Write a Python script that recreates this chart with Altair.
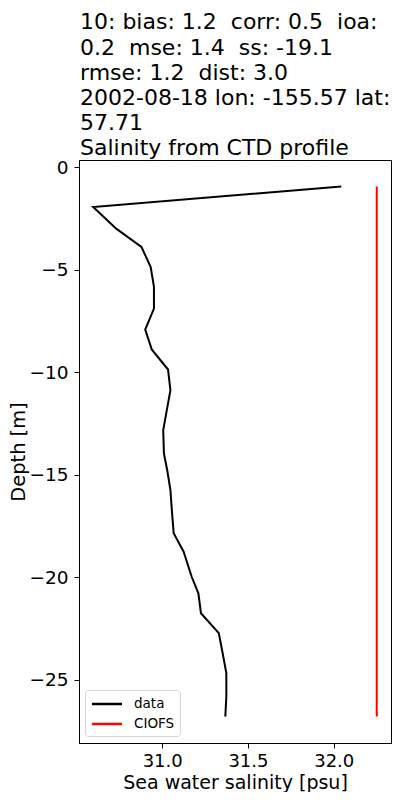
import altair as alt
import pandas as pd

# Observed CTD profile (data)
depth = [-0.93, -1.93, -2.99, -3.88, -4.86, -5.83, -6.89, -7.91, -8.88, -9.86,
         -10.87, -11.84, -12.82, -13.95, -14.8, -15.74, -16.8, -17.85, -18.75,
         -19.97, -20.78, -21.75, -22.72, -23.68, -24.67, -25.81, -26.79]
salinity = [32.044, 30.598, 30.732, 30.879, 30.933, 30.952, 30.952, 30.901, 30.939,
            31.034, 31.048, 31.027, 31.006, 31.010, 31.030, 31.048, 31.057, 31.067,
            31.125, 31.172, 31.211, 31.226, 31.330, 31.352, 31.374, 31.374, 31.368]

# Model profile (CIOFS)
model_depth = [-0.93, -26.79]
model_salinity = [32.251, 32.251]

series_names = ["data", "CIOFS"]
series_colors = ["#000000", "#ff0000"]
x_ticks = [31.0, 31.5, 32.0]
y_ticks = [0, -5, -10, -15, -20, -25]
NB = "\u00a0"
title_lines = [
    f"10: bias: 1.2 {NB}corr: 0.5 {NB}ioa:",
    f"0.2 {NB}mse: 1.4 {NB}ss: -19.1",
    f"rmse: 1.2 {NB}dist: 3.0",
    "2002-08-18 lon: -155.57 lat:",
    "57.71",
    "Salinity from CTD profile",
]

rows = []
for i, (d, s) in enumerate(zip(depth, salinity)):
    rows.append({"series": "data", "depth": d, "salinity": s, "idx": i})
for i, (d, s) in enumerate(zip(model_depth, model_salinity)):
    rows.append({"series": "CIOFS", "depth": d, "salinity": s, "idx": i})
df = pd.DataFrame(rows)

FONT = "DejaVu Sans"

chart = alt.Chart(df).mark_line(strokeWidth=2, clip=True).encode(
    x=alt.X("salinity:Q",
            scale=alt.Scale(domain=[30.515, 32.334], nice=False, zero=False),
            axis=alt.Axis(values=x_ticks, format=".1f", title="Sea water salinity [psu]",
                          labelPadding=4, titlePadding=3, labelFontSize=18,
                          titleFontSize=19)),
    y=alt.Y("depth:Q",
            scale=alt.Scale(domain=[-28.08, 0.36], nice=False, zero=False),
            axis=alt.Axis(values=y_ticks, format="d", title="Depth [m]",
                          labelPadding=6, titlePadding=0)),
    color=alt.Color("series:N",
                    scale=alt.Scale(domain=series_names, range=series_colors),
                    sort=series_names,
                    legend=alt.Legend(
                        title=None, orient="none", legendX=6, legendY=530,
                        symbolType="M-2,0H2", symbolSize=225, symbolStrokeWidth=2.5,
                        symbolOffset=8, labelOffset=18, rowPadding=4,
                        labelFontSize=13.5, labelFont=FONT, labelColor="black",
                        padding=5, strokeColor="#d6d6d6", fillColor="white",
                        cornerRadius=3)),
    order="idx:Q",
).properties(
    width=312,
    height=583,
    autosize=alt.AutoSizeParams(type="none"),
    padding={"left": 71, "top": 152, "right": 1, "bottom": 49},
    title=alt.TitleParams(text=title_lines, anchor="start", frame="group",
                          fontSize=22, font=FONT, fontWeight="normal",
                          color="black", lineHeight=25.2, offset=1, dx=1, dy=3),
).configure_view(
    stroke="black", strokeWidth=1
).configure_axis(
    grid=False, domainColor="black", domainWidth=1, tickColor="black",
    tickSize=5, tickWidth=1, labelFont=FONT, labelFontSize=18.5, labelColor="black",
    titleFont=FONT, titleFontSize=19.4, titleFontWeight="normal",
    titleColor="black",
)

chart.save("out.html", embed_options={"renderer": "svg", "actions": False})
